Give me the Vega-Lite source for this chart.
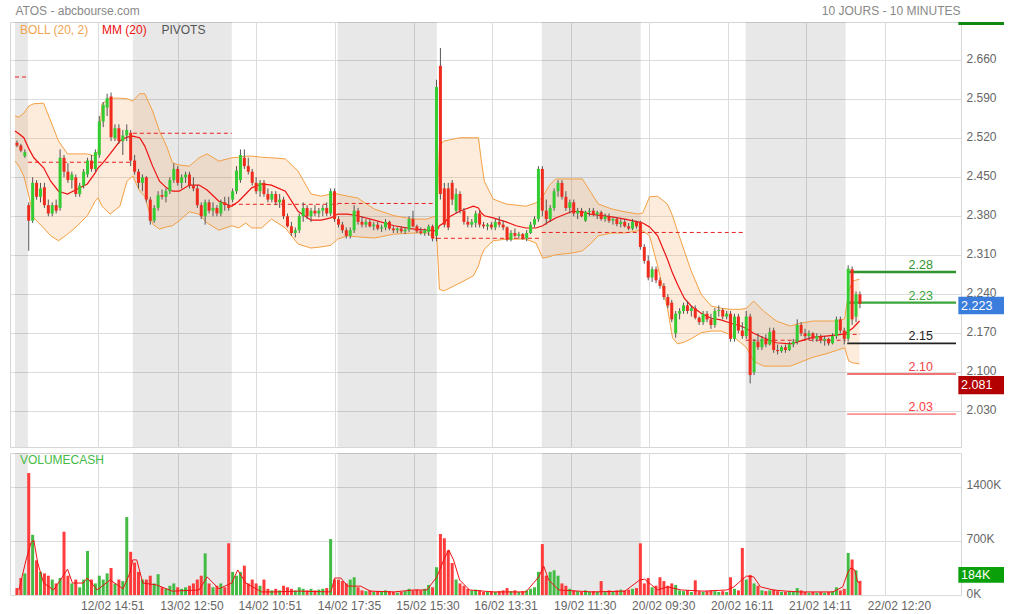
{
 "$schema": "https://vega.github.io/schema/vega-lite/v6.json",
 "background": "white",
 "padding": {"left": 9, "top": 3, "right": 0, "bottom": 0},
 "config": {
  "font": "Liberation Sans",
  "view": {"stroke": "#d6d6d6"},
  "axis": {"gridColor": "#dcdcdc", "domain": false, "ticks": false, "labelColor": "#666", "labelFontSize": 12, "titleFontWeight": "normal"}
 },
 "spacing": 4,
 "datasets": {
  "days": [{"s":0,"e":6.6},{"s":60.1,"e":110.6},{"s":164.6,"e":215.2},{"s":268.7,"e":319.2},{"s":372.7,"e":423.7}],
  "pivd": [{"s":0,"e":6.6,"p":2.63},{"s":6.6,"e":60.1,"p":2.477},{"s":60.1,"e":110.6,"p":2.529},{"s":110.6,"e":164.6,"p":2.4015},{"s":164.6,"e":215.2,"p":2.403},{"s":215.2,"e":268.7,"p":2.3405},{"s":268.7,"e":319.2,"p":2.351},{"s":319.2,"e":372.7,"p":2.351},{"s":372.7,"e":423.7,"p":2.1575},{"s":423.7,"e":431,"p":2.168}],
  "p22": [{"p":2.28,"t":"2.28","k":"a"},{"p":2.225,"t":"2.23","k":"b"},{"p":2.152,"t":"2.15","k":"c"},{"p":2.097,"t":"2.10","k":"d"},{"p":2.025,"t":"2.03","k":"e"}],
  "band": [
   {"i":0,"up":2.56,"lo":2.479,"ma":2.533},{"i":2,"up":2.558,"lo":2.47,"ma":2.528},{"i":4.5,"up":2.565,"lo":2.452,"ma":2.521},{"i":7.1,"up":2.578,"lo":2.416,"ma":2.501},{"i":9.6,"up":2.582,"lo":2.377,"ma":2.485},{"i":14.6,"up":2.583,"lo":2.359,"ma":2.467},{"i":18.2,"up":2.551,"lo":2.345,"ma":2.443},{"i":22.2,"up":2.515,"lo":2.336,"ma":2.425},{"i":26.8,"up":2.492,"lo":2.348,"ma":2.42},{"i":31.8,"up":2.492,"lo":2.363,"ma":2.429},{"i":36.9,"up":2.492,"lo":2.381,"ma":2.438},{"i":40.9,"up":2.488,"lo":2.407,"ma":2.458},{"i":42.4,"up":2.497,"lo":2.413,"ma":2.467},{"i":44.4,"up":2.582,"lo":2.398,"ma":2.474},{"i":48.5,"up":2.592,"lo":2.384,"ma":2.492},{"i":53.5,"up":2.592,"lo":2.398,"ma":2.515},{"i":57.1,"up":2.591,"lo":2.443,"ma":2.522},{"i":60.1,"up":2.587,"lo":2.452,"ma":2.524},{"i":63.6,"up":2.6,"lo":2.425,"ma":2.521},{"i":66.2,"up":2.6,"lo":2.416,"ma":2.506},{"i":70.2,"up":2.569,"lo":2.366,"ma":2.47},{"i":73.7,"up":2.533,"lo":2.357,"ma":2.443},{"i":77.3,"up":2.506,"lo":2.361,"ma":2.431},{"i":80.3,"up":2.476,"lo":2.363,"ma":2.425},{"i":83.8,"up":2.472,"lo":2.372,"ma":2.425},{"i":88.9,"up":2.47,"lo":2.388,"ma":2.436},{"i":93.9,"up":2.485,"lo":2.384,"ma":2.436},{"i":98,"up":2.492,"lo":2.368,"ma":2.427},{"i":104,"up":2.479,"lo":2.355,"ma":2.407},{"i":110.6,"up":2.485,"lo":2.363,"ma":2.398},{"i":114.1,"up":2.486,"lo":2.359,"ma":2.407},{"i":117.7,"up":2.488,"lo":2.368,"ma":2.42},{"i":120.7,"up":2.488,"lo":2.359,"ma":2.431},{"i":125.8,"up":2.486,"lo":2.359,"ma":2.438},{"i":130.8,"up":2.485,"lo":2.375,"ma":2.436},{"i":137.9,"up":2.483,"lo":2.359,"ma":2.425},{"i":144.4,"up":2.461,"lo":2.33,"ma":2.389},{"i":151,"up":2.42,"lo":2.323,"ma":2.373},{"i":156.1,"up":2.416,"lo":2.325,"ma":2.373},{"i":161.1,"up":2.42,"lo":2.328,"ma":2.377},{"i":164.6,"up":2.42,"lo":2.339,"ma":2.384},{"i":169.7,"up":2.416,"lo":2.345,"ma":2.384},{"i":174.7,"up":2.413,"lo":2.343,"ma":2.381},{"i":183.3,"up":2.393,"lo":2.341,"ma":2.373},{"i":193.4,"up":2.381,"lo":2.348,"ma":2.363},{"i":203.5,"up":2.375,"lo":2.35,"ma":2.357},{"i":210.1,"up":2.375,"lo":2.35,"ma":2.355},{"i":215.2,"up":2.381,"lo":2.339,"ma":2.354},{"i":216.5,"up":2.506,"lo":2.249,"ma":2.363},{"i":218.7,"up":2.515,"lo":2.246,"ma":2.368},{"i":221.7,"up":2.517,"lo":2.251,"ma":2.379},{"i":226.8,"up":2.521,"lo":2.26,"ma":2.389},{"i":233.8,"up":2.521,"lo":2.273,"ma":2.398},{"i":236.4,"up":2.521,"lo":2.291,"ma":2.395},{"i":237.9,"up":2.479,"lo":2.309,"ma":2.386},{"i":239.4,"up":2.443,"lo":2.321,"ma":2.381},{"i":243.9,"up":2.411,"lo":2.336,"ma":2.377},{"i":250.5,"up":2.402,"lo":2.339,"ma":2.37},{"i":255.6,"up":2.4,"lo":2.339,"ma":2.363},{"i":260.6,"up":2.398,"lo":2.339,"ma":2.359},{"i":265.7,"up":2.404,"lo":2.332,"ma":2.359},{"i":269.2,"up":2.415,"lo":2.305,"ma":2.363},{"i":272.2,"up":2.434,"lo":2.307,"ma":2.37},{"i":275.8,"up":2.447,"lo":2.311,"ma":2.377},{"i":284.3,"up":2.447,"lo":2.314,"ma":2.389},{"i":289.4,"up":2.447,"lo":2.318,"ma":2.388},{"i":293.4,"up":2.425,"lo":2.33,"ma":2.384},{"i":297.5,"up":2.402,"lo":2.345,"ma":2.382},{"i":304.5,"up":2.393,"lo":2.35,"ma":2.379},{"i":311.1,"up":2.388,"lo":2.35,"ma":2.375},{"i":317.7,"up":2.384,"lo":2.354,"ma":2.37},{"i":320.2,"up":2.386,"lo":2.354,"ma":2.368},{"i":323.7,"up":2.415,"lo":2.345,"ma":2.361},{"i":327.8,"up":2.416,"lo":2.291,"ma":2.345},{"i":332.8,"up":2.402,"lo":2.215,"ma":2.303},{"i":335.4,"up":2.381,"lo":2.162,"ma":2.278},{"i":337.9,"up":2.354,"lo":2.151,"ma":2.258},{"i":341.4,"up":2.318,"lo":2.154,"ma":2.233},{"i":344.9,"up":2.282,"lo":2.16,"ma":2.219},{"i":350,"up":2.24,"lo":2.171,"ma":2.206},{"i":355.1,"up":2.219,"lo":2.174,"ma":2.197},{"i":360.1,"up":2.215,"lo":2.174,"ma":2.194},{"i":365.2,"up":2.213,"lo":2.167,"ma":2.188},{"i":370.2,"up":2.213,"lo":2.153,"ma":2.183},{"i":373.2,"up":2.215,"lo":2.144,"ma":2.178},{"i":376.8,"up":2.228,"lo":2.12,"ma":2.17},{"i":381.8,"up":2.21,"lo":2.111,"ma":2.162},{"i":388.4,"up":2.192,"lo":2.111,"ma":2.153},{"i":395.5,"up":2.183,"lo":2.111,"ma":2.151},{"i":400.5,"up":2.188,"lo":2.118,"ma":2.156},{"i":407.1,"up":2.192,"lo":2.127,"ma":2.163},{"i":413.6,"up":2.192,"lo":2.133,"ma":2.165},{"i":419.7,"up":2.192,"lo":2.14,"ma":2.167},{"i":423.2,"up":2.196,"lo":2.144,"ma":2.169},{"i":425.3,"up":2.246,"lo":2.12,"ma":2.174},{"i":427.3,"up":2.264,"lo":2.117,"ma":2.179},{"i":430.8,"up":2.267,"lo":2.115,"ma":2.192}
  ],
  "vma": [
   {"i":2,"vm":65},{"i":5.6,"vm":450},{"i":8.1,"vm":675},{"i":9.6,"vm":710},{"i":11.6,"vm":415},{"i":14.6,"vm":155},{"i":19.7,"vm":65},{"i":24.2,"vm":235},{"i":26.8,"vm":335},{"i":29.3,"vm":155},{"i":34.8,"vm":155},{"i":36.9,"vm":220},{"i":41.9,"vm":65},{"i":48.5,"vm":195},{"i":55.1,"vm":80},{"i":58.6,"vm":285},{"i":60.1,"vm":455},{"i":62.1,"vm":455},{"i":65.2,"vm":155},{"i":72.2,"vm":130},{"i":80.3,"vm":50},{"i":93.9,"vm":65},{"i":98,"vm":235},{"i":104,"vm":80},{"i":110.6,"vm":155},{"i":113.6,"vm":325},{"i":117.7,"vm":155},{"i":125.8,"vm":40},{"i":132.8,"vm":40},{"i":144.4,"vm":50},{"i":161.1,"vm":40},{"i":163.1,"vm":220},{"i":166.2,"vm":220},{"i":169.7,"vm":115},{"i":176.3,"vm":115},{"i":181.3,"vm":50},{"i":193.4,"vm":40},{"i":203.5,"vm":65},{"i":210.1,"vm":65},{"i":215.2,"vm":235},{"i":218.7,"vm":455},{"i":221.2,"vm":585},{"i":223.7,"vm":455},{"i":226.8,"vm":195},{"i":231.8,"vm":65},{"i":243.9,"vm":40},{"i":260.6,"vm":40},{"i":267.2,"vm":235},{"i":269.7,"vm":375},{"i":272.2,"vm":195},{"i":277.3,"vm":65},{"i":294.4,"vm":40},{"i":311.1,"vm":50},{"i":318.7,"vm":195},{"i":321.2,"vm":205},{"i":324.7,"vm":130},{"i":327.8,"vm":65},{"i":332.8,"vm":105},{"i":339.9,"vm":65},{"i":351.5,"vm":50},{"i":363.1,"vm":65},{"i":366.7,"vm":105},{"i":370.7,"vm":195},{"i":373.2,"vm":245},{"i":376.8,"vm":235},{"i":380.3,"vm":105},{"i":386.9,"vm":65},{"i":393.4,"vm":50},{"i":400.5,"vm":40},{"i":410.6,"vm":40},{"i":417.2,"vm":40},{"i":422.2,"vm":105},{"i":424.7,"vm":285},{"i":426.3,"vm":350},{"i":428.3,"vm":325},{"i":429.8,"vm":170},{"i":430.8,"vm":155}
  ],
  "candles": [
   {"i":1,"o":2.512,"h":2.516,"l":2.504,"c":2.507,"v":90},{"i":3,"o":2.507,"h":2.51,"l":2.495,"c":2.498,"v":220},{"i":5,"o":2.488,"h":2.5,"l":2.485,"c":2.495,"v":280},
   {"i":7,"o":2.4,"h":2.405,"l":2.318,"c":2.372,"v":1580},{"i":9,"o":2.372,"h":2.45,"l":2.368,"c":2.44,"v":780},{"i":11,"o":2.44,"h":2.445,"l":2.41,"c":2.415,"v":450},{"i":13,"o":2.415,"h":2.44,"l":2.405,"c":2.43,"v":300},{"i":15,"o":2.432,"h":2.44,"l":2.395,"c":2.4,"v":280},{"i":17,"o":2.4,"h":2.41,"l":2.38,"c":2.385,"v":250},{"i":19,"o":2.385,"h":2.405,"l":2.38,"c":2.4,"v":200},{"i":21,"o":2.4,"h":2.41,"l":2.385,"c":2.39,"v":150},{"i":23,"o":2.395,"h":2.5,"l":2.39,"c":2.485,"v":220},{"i":25,"o":2.485,"h":2.49,"l":2.45,"c":2.46,"v":820},{"i":27,"o":2.46,"h":2.475,"l":2.44,"c":2.445,"v":250},{"i":29,"o":2.445,"h":2.46,"l":2.43,"c":2.455,"v":150},{"i":31,"o":2.45,"h":2.455,"l":2.415,"c":2.42,"v":200},{"i":33,"o":2.42,"h":2.44,"l":2.415,"c":2.435,"v":100},{"i":35,"o":2.435,"h":2.465,"l":2.43,"c":2.46,"v":200},{"i":37,"o":2.455,"h":2.485,"l":2.45,"c":2.48,"v":570},{"i":39,"o":2.48,"h":2.49,"l":2.46,"c":2.465,"v":200},{"i":41,"o":2.465,"h":2.5,"l":2.46,"c":2.495,"v":150},{"i":43,"o":2.49,"h":2.56,"l":2.485,"c":2.55,"v":250},{"i":45,"o":2.55,"h":2.585,"l":2.54,"c":2.58,"v":200},{"i":47,"o":2.575,"h":2.6,"l":2.56,"c":2.592,"v":280},{"i":49,"o":2.595,"h":2.602,"l":2.515,"c":2.522,"v":350},{"i":51,"o":2.52,"h":2.545,"l":2.515,"c":2.538,"v":150},{"i":53,"o":2.538,"h":2.545,"l":2.51,"c":2.515,"v":200},{"i":55,"o":2.515,"h":2.535,"l":2.49,"c":2.525,"v":180},{"i":57,"o":2.525,"h":2.545,"l":2.515,"c":2.535,"v":1010},{"i":59,"o":2.53,"h":2.535,"l":2.47,"c":2.48,"v":560},
   {"i":61,"o":2.48,"h":2.49,"l":2.455,"c":2.46,"v":420},{"i":63,"o":2.46,"h":2.465,"l":2.43,"c":2.44,"v":300},{"i":65,"o":2.44,"h":2.455,"l":2.425,"c":2.45,"v":200},{"i":67,"o":2.45,"h":2.452,"l":2.405,"c":2.41,"v":200},{"i":69,"o":2.41,"h":2.415,"l":2.365,"c":2.372,"v":250},{"i":71,"o":2.372,"h":2.4,"l":2.368,"c":2.395,"v":150},{"i":73,"o":2.395,"h":2.425,"l":2.39,"c":2.418,"v":270},{"i":75,"o":2.418,"h":2.428,"l":2.41,"c":2.415,"v":100},{"i":77,"o":2.415,"h":2.43,"l":2.405,"c":2.425,"v":80},{"i":79,"o":2.425,"h":2.45,"l":2.42,"c":2.445,"v":120},{"i":81,"o":2.445,"h":2.475,"l":2.44,"c":2.465,"v":150},{"i":83,"o":2.465,"h":2.47,"l":2.435,"c":2.44,"v":100},{"i":85,"o":2.44,"h":2.455,"l":2.43,"c":2.45,"v":80},{"i":87,"o":2.45,"h":2.46,"l":2.44,"c":2.455,"v":100},{"i":89,"o":2.455,"h":2.46,"l":2.43,"c":2.435,"v":120},{"i":91,"o":2.435,"h":2.45,"l":2.425,"c":2.43,"v":150},{"i":93,"o":2.43,"h":2.435,"l":2.395,"c":2.4,"v":200},{"i":95,"o":2.4,"h":2.405,"l":2.375,"c":2.38,"v":250},{"i":97,"o":2.38,"h":2.41,"l":2.365,"c":2.405,"v":540},{"i":99,"o":2.405,"h":2.41,"l":2.385,"c":2.39,"v":150},{"i":101,"o":2.39,"h":2.405,"l":2.38,"c":2.395,"v":100},{"i":103,"o":2.395,"h":2.4,"l":2.38,"c":2.385,"v":120},{"i":105,"o":2.385,"h":2.41,"l":2.38,"c":2.405,"v":150},{"i":107,"o":2.405,"h":2.415,"l":2.39,"c":2.4,"v":100},{"i":109,"o":2.4,"h":2.415,"l":2.39,"c":2.395,"v":670},
   {"i":111,"o":2.41,"h":2.43,"l":2.405,"c":2.425,"v":300},{"i":113,"o":2.425,"h":2.47,"l":2.42,"c":2.462,"v":250},{"i":115,"o":2.445,"h":2.5,"l":2.44,"c":2.49,"v":300},{"i":117,"o":2.485,"h":2.5,"l":2.465,"c":2.47,"v":380},{"i":119,"o":2.47,"h":2.485,"l":2.455,"c":2.46,"v":150},{"i":121,"o":2.46,"h":2.465,"l":2.435,"c":2.44,"v":200},{"i":123,"o":2.44,"h":2.45,"l":2.42,"c":2.425,"v":150},{"i":125,"o":2.425,"h":2.445,"l":2.415,"c":2.44,"v":120},{"i":127,"o":2.44,"h":2.445,"l":2.415,"c":2.42,"v":200},{"i":129,"o":2.42,"h":2.43,"l":2.405,"c":2.41,"v":80},{"i":131,"o":2.41,"h":2.425,"l":2.405,"c":2.42,"v":60},{"i":133,"o":2.42,"h":2.425,"l":2.4,"c":2.405,"v":80},{"i":135,"o":2.405,"h":2.42,"l":2.395,"c":2.41,"v":60},{"i":137,"o":2.41,"h":2.415,"l":2.375,"c":2.38,"v":120},{"i":139,"o":2.38,"h":2.385,"l":2.36,"c":2.362,"v":100},{"i":141,"o":2.362,"h":2.37,"l":2.345,"c":2.35,"v":80},{"i":143,"o":2.35,"h":2.36,"l":2.342,"c":2.355,"v":60},{"i":145,"o":2.355,"h":2.385,"l":2.35,"c":2.38,"v":100},{"i":147,"o":2.38,"h":2.405,"l":2.37,"c":2.395,"v":80},{"i":149,"o":2.395,"h":2.4,"l":2.375,"c":2.38,"v":60},{"i":151,"o":2.38,"h":2.395,"l":2.37,"c":2.39,"v":80},{"i":153,"o":2.39,"h":2.4,"l":2.38,"c":2.385,"v":60},{"i":155,"o":2.385,"h":2.395,"l":2.378,"c":2.39,"v":70},{"i":157,"o":2.39,"h":2.4,"l":2.38,"c":2.395,"v":80},{"i":159,"o":2.395,"h":2.405,"l":2.38,"c":2.385,"v":90},{"i":161,"o":2.385,"h":2.43,"l":2.38,"c":2.425,"v":725},{"i":163,"o":2.425,"h":2.43,"l":2.37,"c":2.375,"v":200},
   {"i":165,"o":2.375,"h":2.38,"l":2.36,"c":2.365,"v":200},{"i":167,"o":2.365,"h":2.37,"l":2.35,"c":2.355,"v":180},{"i":169,"o":2.355,"h":2.36,"l":2.34,"c":2.345,"v":150},{"i":171,"o":2.345,"h":2.36,"l":2.34,"c":2.355,"v":200},{"i":173,"o":2.355,"h":2.4,"l":2.35,"c":2.39,"v":230},{"i":175,"o":2.39,"h":2.395,"l":2.365,"c":2.37,"v":100},{"i":177,"o":2.37,"h":2.38,"l":2.36,"c":2.365,"v":60},{"i":179,"o":2.365,"h":2.375,"l":2.36,"c":2.37,"v":50},{"i":181,"o":2.37,"h":2.375,"l":2.36,"c":2.362,"v":60},{"i":183,"o":2.362,"h":2.37,"l":2.355,"c":2.365,"v":40},{"i":185,"o":2.365,"h":2.37,"l":2.355,"c":2.358,"v":50},{"i":187,"o":2.358,"h":2.365,"l":2.352,"c":2.36,"v":40},{"i":189,"o":2.36,"h":2.375,"l":2.355,"c":2.37,"v":60},{"i":191,"o":2.37,"h":2.372,"l":2.355,"c":2.358,"v":50},{"i":193,"o":2.358,"h":2.362,"l":2.35,"c":2.355,"v":40},{"i":195,"o":2.355,"h":2.36,"l":2.35,"c":2.358,"v":30},{"i":197,"o":2.358,"h":2.362,"l":2.35,"c":2.353,"v":40},{"i":199,"o":2.353,"h":2.36,"l":2.348,"c":2.356,"v":50},{"i":201,"o":2.356,"h":2.38,"l":2.352,"c":2.375,"v":80},{"i":203,"o":2.375,"h":2.39,"l":2.36,"c":2.362,"v":60},{"i":205,"o":2.362,"h":2.365,"l":2.35,"c":2.353,"v":70},{"i":207,"o":2.353,"h":2.36,"l":2.347,"c":2.35,"v":60},{"i":209,"o":2.35,"h":2.358,"l":2.345,"c":2.355,"v":80},{"i":211,"o":2.352,"h":2.365,"l":2.345,"c":2.362,"v":130},{"i":213,"o":2.362,"h":2.365,"l":2.335,"c":2.34,"v":100},
   {"i":215,"o":2.345,"h":2.625,"l":2.335,"c":2.612,"v":360},{"i":217,"o":2.65,"h":2.682,"l":2.41,"c":2.42,"v":790},{"i":219,"o":2.43,"h":2.44,"l":2.36,"c":2.365,"v":735},{"i":221,"o":2.43,"h":2.44,"l":2.355,"c":2.36,"v":580},{"i":223,"o":2.44,"h":2.445,"l":2.4,"c":2.41,"v":415},{"i":225,"o":2.39,"h":2.43,"l":2.385,"c":2.42,"v":200},{"i":227,"o":2.42,"h":2.425,"l":2.385,"c":2.39,"v":150},{"i":229,"o":2.39,"h":2.395,"l":2.365,"c":2.37,"v":120},{"i":231,"o":2.37,"h":2.38,"l":2.36,"c":2.365,"v":80},{"i":233,"o":2.365,"h":2.375,"l":2.36,"c":2.37,"v":60},{"i":235,"o":2.368,"h":2.39,"l":2.36,"c":2.385,"v":70},{"i":237,"o":2.385,"h":2.39,"l":2.36,"c":2.365,"v":60},{"i":239,"o":2.365,"h":2.37,"l":2.358,"c":2.362,"v":40},{"i":241,"o":2.362,"h":2.368,"l":2.355,"c":2.365,"v":40},{"i":243,"o":2.365,"h":2.37,"l":2.356,"c":2.36,"v":50},{"i":245,"o":2.36,"h":2.375,"l":2.355,"c":2.37,"v":40},{"i":247,"o":2.37,"h":2.38,"l":2.36,"c":2.365,"v":50},{"i":249,"o":2.365,"h":2.372,"l":2.355,"c":2.36,"v":60},{"i":251,"o":2.36,"h":2.362,"l":2.335,"c":2.338,"v":90},{"i":253,"o":2.338,"h":2.355,"l":2.335,"c":2.35,"v":50},{"i":255,"o":2.35,"h":2.358,"l":2.342,"c":2.345,"v":60},{"i":257,"o":2.345,"h":2.352,"l":2.34,"c":2.348,"v":40},{"i":259,"o":2.348,"h":2.35,"l":2.338,"c":2.34,"v":50},{"i":261,"o":2.34,"h":2.355,"l":2.335,"c":2.35,"v":60},{"i":263,"o":2.35,"h":2.37,"l":2.348,"c":2.365,"v":80},{"i":265,"o":2.365,"h":2.38,"l":2.36,"c":2.375,"v":100},{"i":267,"o":2.375,"h":2.47,"l":2.37,"c":2.465,"v":300},
   {"i":269,"o":2.465,"h":2.47,"l":2.38,"c":2.39,"v":660},{"i":271,"o":2.39,"h":2.41,"l":2.365,"c":2.375,"v":250},{"i":273,"o":2.375,"h":2.4,"l":2.37,"c":2.395,"v":300},{"i":275,"o":2.395,"h":2.43,"l":2.39,"c":2.425,"v":320},{"i":277,"o":2.425,"h":2.445,"l":2.415,"c":2.44,"v":250},{"i":279,"o":2.44,"h":2.445,"l":2.41,"c":2.415,"v":150},{"i":281,"o":2.415,"h":2.425,"l":2.39,"c":2.395,"v":120},{"i":283,"o":2.395,"h":2.41,"l":2.385,"c":2.405,"v":80},{"i":285,"o":2.405,"h":2.41,"l":2.38,"c":2.385,"v":60},{"i":287,"o":2.385,"h":2.395,"l":2.375,"c":2.39,"v":50},{"i":289,"o":2.39,"h":2.395,"l":2.378,"c":2.38,"v":40},{"i":291,"o":2.372,"h":2.39,"l":2.37,"c":2.388,"v":60},{"i":293,"o":2.388,"h":2.395,"l":2.38,"c":2.39,"v":40},{"i":295,"o":2.39,"h":2.395,"l":2.38,"c":2.383,"v":50},{"i":297,"o":2.383,"h":2.39,"l":2.375,"c":2.387,"v":40},{"i":299,"o":2.387,"h":2.39,"l":2.372,"c":2.375,"v":180},{"i":301,"o":2.375,"h":2.385,"l":2.37,"c":2.38,"v":50},{"i":303,"o":2.38,"h":2.385,"l":2.368,"c":2.372,"v":60},{"i":305,"o":2.372,"h":2.378,"l":2.365,"c":2.375,"v":50},{"i":307,"o":2.375,"h":2.378,"l":2.362,"c":2.366,"v":60},{"i":309,"o":2.366,"h":2.375,"l":2.36,"c":2.37,"v":70},{"i":311,"o":2.37,"h":2.375,"l":2.36,"c":2.362,"v":60},{"i":313,"o":2.362,"h":2.368,"l":2.355,"c":2.358,"v":70},{"i":315,"o":2.358,"h":2.375,"l":2.355,"c":2.37,"v":80},{"i":317,"o":2.37,"h":2.372,"l":2.358,"c":2.362,"v":90},
   {"i":319,"o":2.37,"h":2.372,"l":2.32,"c":2.325,"v":670},{"i":321,"o":2.325,"h":2.33,"l":2.295,"c":2.3,"v":150},{"i":323,"o":2.3,"h":2.31,"l":2.265,"c":2.27,"v":220},{"i":325,"o":2.27,"h":2.29,"l":2.262,"c":2.285,"v":100},{"i":327,"o":2.285,"h":2.29,"l":2.26,"c":2.265,"v":120},{"i":329,"o":2.265,"h":2.27,"l":2.25,"c":2.255,"v":230},{"i":331,"o":2.255,"h":2.26,"l":2.23,"c":2.235,"v":180},{"i":333,"o":2.235,"h":2.24,"l":2.215,"c":2.22,"v":120},{"i":335,"o":2.225,"h":2.23,"l":2.19,"c":2.195,"v":150},{"i":337,"o":2.17,"h":2.21,"l":2.162,"c":2.205,"v":130},{"i":339,"o":2.205,"h":2.215,"l":2.195,"c":2.21,"v":60},{"i":341,"o":2.21,"h":2.225,"l":2.205,"c":2.22,"v":50},{"i":343,"o":2.22,"h":2.228,"l":2.205,"c":2.21,"v":60},{"i":345,"o":2.21,"h":2.22,"l":2.2,"c":2.215,"v":40},{"i":347,"o":2.215,"h":2.22,"l":2.195,"c":2.198,"v":190},{"i":349,"o":2.198,"h":2.2,"l":2.185,"c":2.19,"v":50},{"i":351,"o":2.19,"h":2.21,"l":2.185,"c":2.205,"v":40},{"i":353,"o":2.205,"h":2.21,"l":2.19,"c":2.195,"v":50},{"i":355,"o":2.195,"h":2.205,"l":2.178,"c":2.185,"v":60},{"i":357,"o":2.185,"h":2.215,"l":2.18,"c":2.21,"v":50},{"i":359,"o":2.21,"h":2.22,"l":2.2,"c":2.212,"v":40},{"i":361,"o":2.212,"h":2.215,"l":2.195,"c":2.2,"v":50},{"i":363,"o":2.2,"h":2.21,"l":2.195,"c":2.205,"v":40},{"i":365,"o":2.205,"h":2.21,"l":2.155,"c":2.16,"v":230},{"i":367,"o":2.16,"h":2.205,"l":2.155,"c":2.2,"v":80},{"i":369,"o":2.2,"h":2.205,"l":2.17,"c":2.175,"v":60},{"i":371,"o":2.175,"h":2.19,"l":2.16,"c":2.165,"v":610},
   {"i":373,"o":2.165,"h":2.21,"l":2.16,"c":2.2,"v":200},{"i":375,"o":2.2,"h":2.205,"l":2.08,"c":2.095,"v":260},{"i":377,"o":2.1,"h":2.16,"l":2.095,"c":2.155,"v":150},{"i":379,"o":2.155,"h":2.17,"l":2.14,"c":2.145,"v":120},{"i":381,"o":2.145,"h":2.165,"l":2.14,"c":2.16,"v":60},{"i":383,"o":2.16,"h":2.168,"l":2.145,"c":2.15,"v":50},{"i":385,"o":2.15,"h":2.18,"l":2.148,"c":2.172,"v":60},{"i":387,"o":2.175,"h":2.18,"l":2.135,"c":2.14,"v":70},{"i":389,"o":2.14,"h":2.15,"l":2.132,"c":2.138,"v":50},{"i":391,"o":2.138,"h":2.148,"l":2.135,"c":2.145,"v":40},{"i":393,"o":2.145,"h":2.15,"l":2.135,"c":2.14,"v":40},{"i":395,"o":2.14,"h":2.155,"l":2.138,"c":2.15,"v":50},{"i":397,"o":2.15,"h":2.16,"l":2.145,"c":2.155,"v":40},{"i":399,"o":2.155,"h":2.195,"l":2.15,"c":2.185,"v":90},{"i":401,"o":2.185,"h":2.19,"l":2.165,"c":2.17,"v":60},{"i":403,"o":2.17,"h":2.178,"l":2.16,"c":2.165,"v":40},{"i":405,"o":2.165,"h":2.175,"l":2.158,"c":2.17,"v":30},{"i":407,"o":2.17,"h":2.172,"l":2.155,"c":2.16,"v":40},{"i":409,"o":2.16,"h":2.17,"l":2.155,"c":2.165,"v":30},{"i":411,"o":2.165,"h":2.168,"l":2.152,"c":2.157,"v":40},{"i":413,"o":2.157,"h":2.165,"l":2.148,"c":2.16,"v":30},{"i":415,"o":2.16,"h":2.162,"l":2.148,"c":2.152,"v":40},{"i":417,"o":2.152,"h":2.17,"l":2.15,"c":2.165,"v":50},{"i":419,"o":2.165,"h":2.2,"l":2.16,"c":2.195,"v":100},{"i":421,"o":2.195,"h":2.2,"l":2.17,"c":2.175,"v":60},{"i":423,"o":2.175,"h":2.18,"l":2.15,"c":2.16,"v":80},
   {"i":425,"o":2.16,"h":2.292,"l":2.155,"c":2.286,"v":545},{"i":427,"o":2.285,"h":2.29,"l":2.185,"c":2.195,"v":460},{"i":429,"o":2.2,"h":2.245,"l":2.19,"c":2.24,"v":320},{"i":431,"o":2.24,"h":2.245,"l":2.215,"c":2.223,"v":184}
  ]
 },
 "vconcat": [
  {
   "width": 951,
   "height": 425,
   "layer": [
    {
     "data": {"name": "days"},
     "mark": {"type": "rect", "color": "#000000", "opacity": 0.09},
     "encoding": {
      "x": {"field": "s", "type": "quantitative", "scale": {"domain": [0, 480], "nice": false, "zero": false},
       "axis": {"orient": "top", "values": [42.5,82.9,122.8,163.2,203.3,243.1,283.5,323.5,363.6,403.4,443.8], "labels": false, "grid": true,
        "title": "10 JOURS - 10 MINUTES", "titleX": 950, "titleY": -12, "titleAlign": "right", "titleBaseline": "middle", "titleFontSize": 12, "titleColor": "#888888"}},
      "x2": {"field": "e"}
     }
    },
    {
     "data": {"name": "band"},
     "mark": {"type": "area", "color": "#f7a35c", "opacity": 0.22},
     "encoding": {
      "x": {"field": "i", "type": "quantitative"},
      "y": {"field": "up", "type": "quantitative", "scale": {"domain": [1.9659, 2.7287], "nice": false, "zero": false},
       "axis": {"orient": "right", "values": [2.03,2.1,2.17,2.24,2.31,2.38,2.45,2.52,2.59,2.66], "format": ".3f", "grid": true, "labelPadding": 5, "labelOffset": -2,
        "title": "ATOS - abcbourse.com", "titleAngle": 0, "titleX": -946, "titleY": -12, "titleAlign": "left", "titleBaseline": "middle", "titleFontSize": 12, "titleColor": "#888888"}},
      "y2": {"field": "lo"}
     }
    },
    {
     "data": {"name": "band"},
     "mark": {"type": "line", "color": "#f4a043", "strokeWidth": 1},
     "encoding": {"x": {"field": "i", "type": "quantitative"}, "y": {"field": "up", "type": "quantitative"}}
    },
    {
     "data": {"name": "band"},
     "mark": {"type": "line", "color": "#f4a043", "strokeWidth": 1},
     "encoding": {"x": {"field": "i", "type": "quantitative"}, "y": {"field": "lo", "type": "quantitative"}}
    },
    {
     "data": {"name": "pivd"},
     "mark": {"type": "rule", "color": "#e82020", "strokeWidth": 1, "strokeDash": [4, 3]},
     "encoding": {"x": {"field": "s", "type": "quantitative"}, "x2": {"field": "e"}, "y": {"field": "p", "type": "quantitative"}}
    },
    {
     "data": {"name": "band"},
     "mark": {"type": "line", "color": "#ee1111", "strokeWidth": 1.2},
     "encoding": {"x": {"field": "i", "type": "quantitative"}, "y": {"field": "ma", "type": "quantitative"}}
    },
    {
     "data": {"name": "p22"},
     "mark": {"type": "rule"},
     "encoding": {
      "x": {"datum": 424.5, "type": "quantitative"},
      "x2": {"datum": 480},
      "y": {"field": "p", "type": "quantitative"},
      "color": {"field": "k", "type": "nominal", "scale": {"domain": ["a","b","c","d","e"], "range": ["#2f942f","#3aa53a","#222222","#ee4444","#ff4040"]}, "legend": null},
      "strokeWidth": {"field": "k", "type": "nominal", "scale": {"domain": ["a","b","c","d","e"], "range": [2.5, 1, 1, 1.5, 2.5]}, "legend": null}
     }
    },
    {
     "data": {"name": "p22"},
     "mark": {"type": "text", "dy": -7, "fontSize": 12.5, "align": "center", "baseline": "middle"},
     "encoding": {
      "x": {"datum": 462, "type": "quantitative"},
      "y": {"field": "p", "type": "quantitative"},
      "text": {"field": "t"},
      "color": {"field": "k", "type": "nominal", "scale": {"domain": ["a","b","c","d","e"], "range": ["#2a8a2a","#2a8a2a","#111111","#f02020","#f02020"]}, "legend": null}
     }
    },
    {
     "data": {"name": "candles"},
     "mark": {"type": "rule", "color": "#555555", "strokeWidth": 1},
     "encoding": {"x": {"field": "i", "type": "quantitative"}, "y": {"field": "l", "type": "quantitative"}, "y2": {"field": "h"}}
    },
    {
     "data": {"name": "candles"},
     "mark": {"type": "bar", "size": 3},
     "encoding": {
      "x": {"field": "i", "type": "quantitative"},
      "y": {"field": "o", "type": "quantitative"},
      "y2": {"field": "c"},
      "color": {"condition": {"test": "datum.c >= datum.o", "value": "#33cc33"}, "value": "#ee2b1c"}
     }
    },
    {
     "data": {"values": [{}]},
     "mark": {"type": "text", "align": "left", "baseline": "middle", "fontSize": 12, "color": "#f2a550"},
     "encoding": {"x": {"datum": 2.5, "type": "quantitative"}, "y": {"datum": 2.7144, "type": "quantitative"}, "text": {"value": "BOLL (20, 2)"}}
    },
    {
     "data": {"values": [{}]},
     "mark": {"type": "text", "align": "left", "baseline": "middle", "fontSize": 12, "color": "#ee1111"},
     "encoding": {"x": {"datum": 44.4, "type": "quantitative"}, "y": {"datum": 2.7144, "type": "quantitative"}, "text": {"value": "MM (20)"}}
    },
    {
     "data": {"values": [{}]},
     "mark": {"type": "text", "align": "left", "baseline": "middle", "fontSize": 12, "color": "#555555"},
     "encoding": {"x": {"datum": 74.7, "type": "quantitative"}, "y": {"datum": 2.7144, "type": "quantitative"}, "text": {"value": "PIVOTS"}}
    },
    {
     "data": {"values": [{}]},
     "mark": {"type": "rect", "color": "#3b7ddd"},
     "encoding": {"x": {"datum": 481.2, "type": "quantitative"}, "x2": {"datum": 504.5}, "y": {"datum": 2.2356, "type": "quantitative"}, "y2": {"datum": 2.204}}
    },
    {
     "data": {"values": [{}]},
     "mark": {"type": "text", "align": "left", "baseline": "middle", "fontSize": 12.5, "color": "white"},
     "encoding": {"x": {"datum": 482.6, "type": "quantitative"}, "y": {"datum": 2.2198, "type": "quantitative"}, "text": {"value": "2.223"}}
    },
    {
     "data": {"values": [{}]},
     "mark": {"type": "rect", "color": "#b30000"},
     "encoding": {"x": {"datum": 481.2, "type": "quantitative"}, "x2": {"datum": 504.5}, "y": {"datum": 2.0933, "type": "quantitative"}, "y2": {"datum": 2.0604}}
    },
    {
     "data": {"values": [{}]},
     "mark": {"type": "text", "align": "left", "baseline": "middle", "fontSize": 12.5, "color": "white"},
     "encoding": {"x": {"datum": 482.6, "type": "quantitative"}, "y": {"datum": 2.0768, "type": "quantitative"}, "text": {"value": "2.081"}}
    },
    {
     "data": {"values": [{}]},
     "mark": {"type": "rect", "color": "#118811"},
     "encoding": {"x": {"datum": 481.2, "type": "quantitative"}, "x2": {"datum": 504.5}, "y": {"datum": 2.7287, "type": "quantitative"}, "y2": {"datum": 2.7235}}
    }
   ]
  },
  {
   "width": 951,
   "height": 142,
   "layer": [
    {
     "data": {"name": "days"},
     "mark": {"type": "rect", "color": "#000000", "opacity": 0.09},
     "encoding": {
      "x": {"field": "s", "type": "quantitative", "scale": {"domain": [0, 480], "nice": false, "zero": false},
       "axis": {"orient": "bottom", "values": [42.5,82.9,122.8,163.2,203.3,243.1,283.5,323.5,363.6,403.4,443.8], "grid": true, "labelOffset": 14, "labelPadding": 5, "labelOverlap": false, "labelFlush": false, "title": null,
        "labelExpr": "['12/02 14:51','13/02 12:50','14/02 10:51','14/02 17:35','15/02 15:30','16/02 13:31','19/02 11:30','20/02 09:30','20/02 16:11','21/02 14:11','22/02 12:20'][indexof([42.5,82.9,122.8,163.2,203.3,243.1,283.5,323.5,363.6,403.4,443.8], datum.value)]"}},
      "x2": {"field": "e"}
     }
    },
    {
     "data": {"name": "candles"},
     "mark": {"type": "bar", "size": 3},
     "encoding": {
      "x": {"field": "i", "type": "quantitative"},
      "y": {"field": "v", "type": "quantitative", "scale": {"domain": [0, 1840], "nice": false, "zero": true},
       "axis": {"orient": "right", "values": [0, 700, 1400], "labelExpr": "datum.value + 'K'", "grid": true, "labelPadding": 5, "labelOffset": -2, "title": null}},
      "color": {"condition": {"test": "datum.c >= datum.o", "value": "#44bb44"}, "value": "#ff3b3b"}
     }
    },
    {
     "data": {"name": "vma"},
     "mark": {"type": "line", "color": "#ee1111", "strokeWidth": 1},
     "encoding": {"x": {"field": "i", "type": "quantitative"}, "y": {"field": "vm", "type": "quantitative"}}
    },
    {
     "data": {"values": [{}]},
     "mark": {"type": "text", "align": "left", "baseline": "middle", "fontSize": 12, "color": "#44bb44"},
     "encoding": {"x": {"datum": 2.5, "type": "quantitative"}, "y": {"datum": 1745, "type": "quantitative"}, "text": {"value": "VOLUMECASH"}}
    },
    {
     "data": {"values": [{}]},
     "mark": {"type": "rect", "color": "#0aa00a"},
     "encoding": {"x": {"datum": 481.2, "type": "quantitative"}, "x2": {"datum": 504.5}, "y": {"datum": 159, "type": "quantitative"}, "y2": {"datum": 363}}
    },
    {
     "data": {"values": [{}]},
     "mark": {"type": "text", "align": "left", "baseline": "middle", "fontSize": 12.5, "color": "white"},
     "encoding": {"x": {"datum": 482.6, "type": "quantitative"}, "y": {"datum": 254, "type": "quantitative"}, "text": {"value": "184K"}}
    }
   ]
  }
 ]
}
